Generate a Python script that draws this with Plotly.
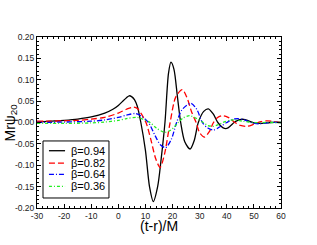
import plotly.graph_objects as go

# beta = 0.94 (black, solid)
t_094 = [-30, -25, -20, -15, -10, -5, -2, 0, 2, 3, 4, 5, 6, 7, 8.3, 10, 11.5, 12.9, 14.5, 15.8,
         17.2, 18.5, 19.4, 20.5, 21.8, 23, 24.5, 26.5, 28, 29.5, 31.5, 33.2, 35, 36.7, 38.5,
         40, 41.5, 42.7, 44.5, 46.2, 48, 50, 53, 56, 60]
v_094 = [0.001, 0.003, 0.005, 0.008, 0.013, 0.022, 0.031, 0.040, 0.052, 0.058, 0.0625, 0.060,
         0.053, 0.038, 0.0, -0.065, -0.150, -0.185, -0.150, -0.085,
         0.0, 0.115, 0.141, 0.125, 0.060, 0.0, -0.045, -0.062, -0.042, 0.0, 0.026, 0.032,
         0.020, 0.0, -0.012, -0.014, -0.007, 0.0, 0.006, 0.0075, 0.004, -0.001, -0.002, 0.0, 0.0]

# beta = 0.82 (red, dashed)
t_082 = [-30, -25, -20, -15, -10, -5, 0, 3, 5.5, 7, 8.5, 10.2, 12, 13.8, 15.4, 17, 19.1, 21.2,
         23.6, 25.5, 27, 28.7, 30, 31.8, 33.5, 35.1, 36.5, 38.5, 40.5, 43, 45, 47.5, 50, 52.5,
         55, 57.5, 60]
v_082 = [0.003, 0.003, 0.004, 0.005, 0.008, 0.012, 0.022, 0.031, 0.036, 0.033, 0.020, 0.0,
         -0.040, -0.085, -0.105, -0.075, 0.0, 0.060,
         0.077, 0.055, 0.025, 0.0, -0.024, -0.034, -0.022, 0.0, 0.011, 0.016, 0.012, 0.0,
         -0.007, -0.009, -0.004, 0.002, 0.004, 0.002, 0.0]

# beta = 0.64 (blue, dash-dot)
t_064 = [-30, -20, -10, -5, 0, 3, 6.2, 8.5, 11.1, 13.5, 15.5, 17.4, 19.5, 21.5, 23.5, 26.8, 29,
         31, 33, 35.1, 37.5, 40, 42, 44, 46.5, 49, 52, 56, 60]
v_064 = [0.0, 0.001, 0.003, 0.006, 0.012, 0.017, 0.021, 0.015, 0.0, -0.030, -0.052, -0.059,
         -0.040, 0.0, 0.030, 0.045, 0.030, 0.0, -0.013, -0.0175, -0.010, 0.0, 0.007, 0.009,
         0.006, 0.0, -0.003, 0.0, 0.0]

# beta = 0.36 (green, dash-dot)
t_036 = [-30, -20, -10, -5, 0, 3, 6.8, 9, 11.7, 14, 17.2, 19.5, 22.1, 24, 26.3, 29, 31.3, 33,
         35, 37, 38.6, 41, 43, 46, 50, 55, 60]
v_036 = [-0.002, -0.002, -0.001, 0.001, 0.005, 0.009, 0.012, 0.008, 0.0, -0.013, -0.023,
         -0.017, 0.0, 0.011, 0.016, 0.009, 0.0, -0.007, -0.009, -0.005, 0.0, 0.005, 0.006,
         0.003, 0.0, 0.0, 0.0]

labels = ["β=0.94", "β=0.82", "β=0.64", "β=0.36"]
colors = ["#000000", "#ff0000", "#0000ff", "#22ee22"]
dashes = ["solid", "6px,3px", "5px,2px,1px,2px", "3px,2px,1px,2px"]
series = [(t_094, v_094), (t_082, v_082), (t_064, v_064), (t_036, v_036)]

x_ticks = [-30, -20, -10, 0, 10, 20, 30, 40, 50, 60]
y_ticks = [-0.20, -0.15, -0.10, -0.05, 0.00, 0.05, 0.10, 0.15, 0.20]

fig = go.Figure()
for (t, v), lab, c, d in zip(series, labels, colors, dashes):
    fig.add_trace(go.Scatter(x=t, y=v, mode="lines", name=lab, showlegend=False,
                             line=dict(color=c, width=1.3, dash=d, shape="spline", smoothing=0.8)))

axis_common = dict(showgrid=False, zeroline=False, showline=True, linecolor="black",
                   linewidth=1, mirror="ticks", ticks="inside", ticklen=4, tickwidth=1,
                   tickcolor="black", automargin=False,
                   tickfont=dict(family="Arial", size=8.5, color="#222"))

fig.update_xaxes(range=[-30, 60], tickvals=x_ticks, ticktext=[str(v) for v in x_ticks],
                 minor=dict(dtick=2, ticks="inside", ticklen=2, tickcolor="black"),
                 **axis_common)
fig.update_yaxes(range=[-0.2, 0.2], tickvals=y_ticks, ticktext=[f"{v:.2f}" for v in y_ticks],
                 minor=dict(dtick=0.01, ticks="inside", ticklen=2, tickcolor="black"),
                 **axis_common)

# axis titles
fig.add_annotation(text="(t-r)/M", xref="paper", yref="paper", x=0.5, y=0,
                   xanchor="center", yanchor="middle", yshift=-18, showarrow=False,
                   font=dict(family="Arial", size=14, color="black"))
fig.add_annotation(text="Mrψ<sub>20</sub>", xref="paper", yref="paper", x=0, y=0.5,
                   xanchor="center", yanchor="middle", xshift=-27, textangle=-90,
                   showarrow=False, font=dict(family="Arial", size=14, color="black"))

# compact boxed legend (as in the reference)
fig.add_shape(type="rect", xref="paper", yref="paper", x0=0.0246, x1=0.295, y0=0.0585, y1=0.392,
              line=dict(color="black", width=1), fillcolor="white", layer="above")
entry_y = [0.335, 0.263, 0.197, 0.127]
for lab, c, d, ey in zip(labels, colors, dashes, entry_y):
    fig.add_shape(type="line", xref="paper", yref="paper", x0=0.049, x1=0.115, y0=ey, y1=ey,
                  line=dict(color=c, width=1.3, dash=d), layer="above")
    fig.add_annotation(text=lab, xref="paper", yref="paper", x=0.133, y=ey,
                       xanchor="left", yanchor="middle", showarrow=False,
                       font=dict(family="Arial", size=11, color="black"))

fig.update_layout(
    width=317, height=245,
    margin=dict(l=37, r=36, t=37, b=37),
    paper_bgcolor="white", plot_bgcolor="white",
    showlegend=False,
)

# remove the browser's default page margin so the figure fills the window exactly
fig.write_html("out.html", config={"displayModeBar": False},
               post_script="document.body.style.margin='0px';document.body.style.overflow='hidden';")
